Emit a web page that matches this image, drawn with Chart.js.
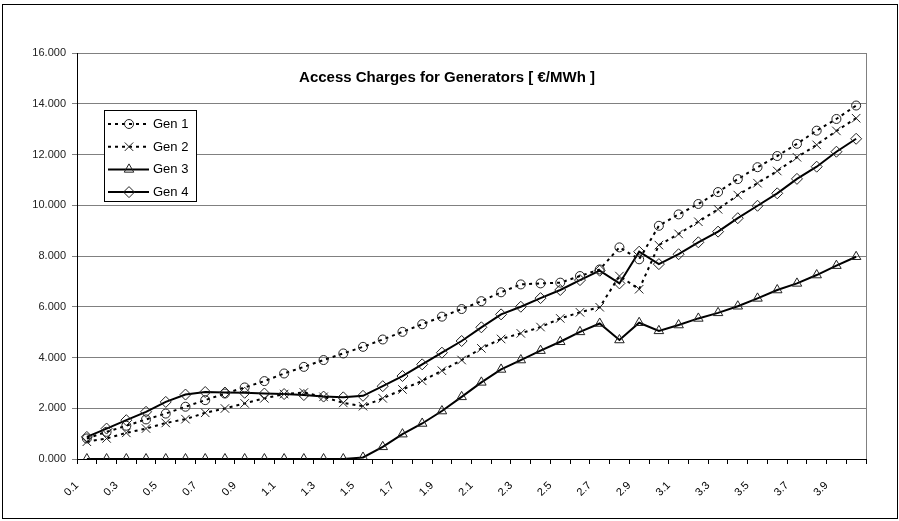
<!DOCTYPE html>
<html>
<head>
<meta charset="utf-8">
<script src="https://cdn.jsdelivr.net/npm/chart.js"></script>
<style>
  html, body { margin: 0; padding: 0; background: #fff; }
  #wrap { width: 899px; height: 521px; position: relative; }
</style>
</head>
<body>
<div id="wrap"><canvas id="c" width="899" height="521"></canvas></div>
<script>
const categories = ['0.1','0.2','0.3','0.4','0.5','0.6','0.7','0.8','0.9','1.0',
                    '1.1','1.2','1.3','1.4','1.5','1.6','1.7','1.8','1.9','2.0',
                    '2.1','2.2','2.3','2.4','2.5','2.6','2.7','2.8','2.9','3.0',
                    '3.1','3.2','3.3','3.4','3.5','3.6','3.7','3.8','3.9','4.0'];
const gen1 = [0.81, 1.07, 1.31, 1.56, 1.79, 2.06, 2.32, 2.58, 2.82, 3.07,
              3.37, 3.63, 3.90, 4.16, 4.42, 4.71, 5.01, 5.31, 5.61, 5.91,
              6.22, 6.57, 6.88, 6.92, 6.95, 7.21, 7.47, 8.34, 7.87, 9.19,
              9.64, 10.05, 10.52, 11.03, 11.50, 11.94, 12.42, 12.94, 13.40, 13.93];
const gen2 = [0.68, 0.81, 1.03, 1.20, 1.42, 1.57, 1.82, 1.99, 2.19, 2.39,
              2.56, 2.62, 2.45, 2.21, 2.08, 2.39, 2.74, 3.08, 3.48, 3.90,
              4.36, 4.73, 4.95, 5.20, 5.54, 5.78, 5.98, 7.21, 6.69, 8.43,
              8.87, 9.35, 9.84, 10.40, 10.87, 11.35, 11.89, 12.38, 12.93, 13.43];
const gen3 = [0, 0, 0, 0, 0, 0, 0, 0, 0, 0,
              0, 0, 0, 0, 0.06, 0.48, 0.98, 1.40, 1.89, 2.45,
              3.02, 3.53, 3.90, 4.27, 4.62, 5.01, 5.34, 4.69, 5.37, 5.05,
              5.28, 5.54, 5.76, 6.02, 6.33, 6.66, 6.92, 7.25, 7.62, 7.97];
const gen4 = [0.87, 1.20, 1.53, 1.86, 2.25, 2.54, 2.64, 2.62, 2.61, 2.58,
              2.56, 2.52, 2.46, 2.43, 2.49, 2.87, 3.27, 3.73, 4.19, 4.65,
              5.19, 5.70, 6.00, 6.34, 6.66, 7.05, 7.42, 6.92, 8.17, 7.68,
              8.07, 8.54, 8.96, 9.49, 9.98, 10.47, 11.04, 11.52, 12.11, 12.62];
const seriesNames = ['Gen 1', 'Gen 2', 'Gen 3', 'Gen 4'];
const chartTitle = 'Access Charges for Generators [ €/MWh ]';
const yTickValues = [0, 2, 4, 6, 8, 10, 12, 14, 16];

const FONT = 'Arial, "Liberation Sans", sans-serif';

function mkSet(label, data, dash, style, radius) {
  return {
    label: label,
    data: data,
    borderColor: '#000',
    borderWidth: 2,
    borderDash: dash ? [3, 4] : [],
    pointStyle: style,
    pointRadius: radius,
    pointBorderColor: '#222',
    pointBackgroundColor: 'rgba(255,255,255,0)',
    pointBorderWidth: 1,
    tension: 0,
    fill: false
  };
}

function drawMarker(ctx, style, x, y, r) {
  ctx.beginPath();
  if (style === 'circle') {
    ctx.arc(x, y, r, 0, Math.PI * 2);
  } else if (style === 'crossRot') {
    const d = r * Math.SQRT1_2;
    ctx.moveTo(x - d, y - d); ctx.lineTo(x + d, y + d);
    ctx.moveTo(x - d, y + d); ctx.lineTo(x + d, y - d);
  } else if (style === 'triangle') {
    ctx.moveTo(x, y - r);
    ctx.lineTo(x + r * Math.sin(Math.PI / 3), y + r / 2);
    ctx.lineTo(x - r * Math.sin(Math.PI / 3), y + r / 2);
    ctx.closePath();
  } else if (style === 'rectRot') {
    ctx.moveTo(x - r, y); ctx.lineTo(x, y - r);
    ctx.lineTo(x + r, y); ctx.lineTo(x, y + r);
    ctx.closePath();
  }
  ctx.stroke();
}

const decorPlugin = {
  id: 'decor',
  beforeDraw(chart) {
    const ctx = chart.ctx;
    ctx.save();
    ctx.fillStyle = '#fff';
    ctx.fillRect(0, 0, chart.width, chart.height);
    ctx.restore();
  },
  beforeDatasetsDraw(chart) {
    const ctx = chart.ctx, a = chart.chartArea;
    ctx.save();
    ctx.strokeStyle = '#808080';
    ctx.lineWidth = 1;
    ctx.beginPath();
    ctx.moveTo(Math.round(a.right) + 0.5, a.top);
    ctx.lineTo(Math.round(a.right) + 0.5, a.bottom);
    ctx.stroke();
    ctx.restore();
  },
  afterDraw(chart) {
    const ctx = chart.ctx, a = chart.chartArea;
    ctx.save();
    // outer frame
    ctx.strokeStyle = '#000';
    ctx.lineWidth = 1;
    ctx.strokeRect(2.5, 4.5, 895, 514);
    // title
    ctx.fillStyle = '#000';
    ctx.font = 'bold 15px ' + FONT;
    ctx.textAlign = 'center';
    ctx.textBaseline = 'middle';
    ctx.fillText(chartTitle, 447, a.top + 25);
    // legend box
    const lx = 104.5, ly = 110.5, lw = 92, lh = 91;
    ctx.fillStyle = '#fff';
    ctx.fillRect(lx, ly, lw, lh);
    ctx.strokeStyle = '#000';
    ctx.lineWidth = 1;
    ctx.strokeRect(lx, ly, lw, lh);
    chart.data.datasets.forEach((ds, i) => {
      const y = 124 + i * 22.7;
      ctx.strokeStyle = ds.borderColor;
      ctx.lineWidth = ds.borderWidth;
      ctx.setLineDash(ds.borderDash);
      ctx.beginPath();
      ctx.moveTo(108, y); ctx.lineTo(149, y);
      ctx.stroke();
      ctx.setLineDash([]);
      ctx.strokeStyle = ds.pointBorderColor;
      ctx.lineWidth = 1;
      drawMarker(ctx, ds.pointStyle, 129, y, ds.pointRadius);
      ctx.fillStyle = '#000';
      ctx.font = '13px ' + FONT;
      ctx.textAlign = 'left';
      ctx.textBaseline = 'middle';
      ctx.fillText(ds.label, 153, y + 0.5);
    });
    ctx.restore();
  }
};

new Chart(document.getElementById('c'), {
  type: 'line',
  data: {
    labels: categories,
    datasets: [
      mkSet(seriesNames[0], gen1, true, 'circle', 4.5),
      mkSet(seriesNames[1], gen2, true, 'crossRot', 6),
      mkSet(seriesNames[2], gen3, false, 'triangle', 5.5),
      mkSet(seriesNames[3], gen4, false, 'rectRot', 5.5)
    ]
  },
  options: {
    responsive: false,
    animation: false,
    devicePixelRatio: 1,
    layout: { padding: { left: 0, right: 33, top: 53, bottom: 0 } },
    plugins: {
      legend: { display: false },
      title: { display: false },
      tooltip: { enabled: false }
    },
    scales: {
      x: {
        type: 'category',
        offset: true,
        grid: { offset: true, drawOnChartArea: false, drawTicks: true, tickLength: 5, color: '#000' },
        border: { color: '#000', width: 1 },
        ticks: {
          autoSkip: false,
          minRotation: 45,
          maxRotation: 45,
          padding: 15,
          labelOffset: -10,
          color: '#000',
          font: { family: FONT, size: 11 },
          callback: function (v, i) { return i % 2 === 0 ? this.getLabelForValue(v) : ''; }
        },
        afterFit: (s) => { s.height = 62; }
      },
      y: {
        min: 0,
        max: 16,
        afterBuildTicks: (s) => { s.ticks = yTickValues.map(v => ({ value: v })); },
        grid: { color: '#808080', tickLength: 5, lineWidth: 1 },
        border: { color: '#000', width: 1 },
        ticks: {
          padding: 6,
          color: '#222',
          font: { family: FONT, size: 11 },
          callback: (v) => Number(v).toFixed(3)
        },
        afterFit: (s) => { s.width = 77; }
      }
    }
  },
  plugins: [decorPlugin]
});
</script>
</body>
</html>
